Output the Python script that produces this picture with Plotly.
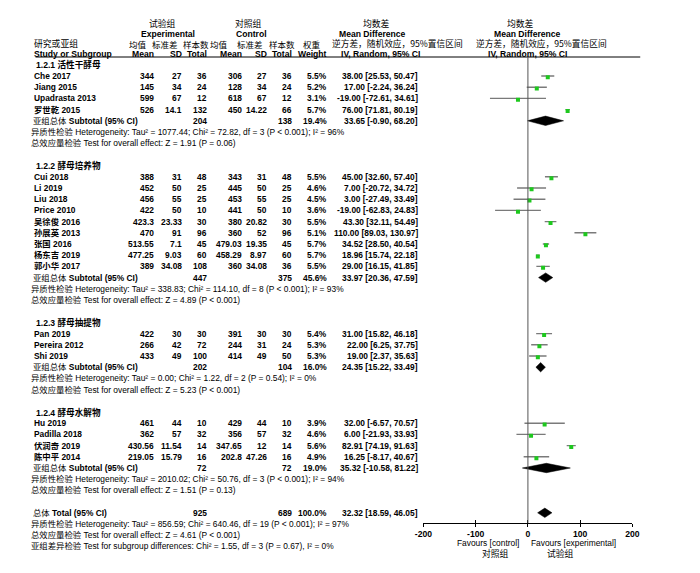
import plotly.graph_objects as go

# ---------------- data ----------------
group_titles = ["1.2.1 活性干酵母", "1.2.2 酵母培养物", "1.2.3 酵母抽提物", "1.2.4 酵母水解物"]
study_group = [0, 0, 0, 0, 1, 1, 1, 1, 1, 1, 1, 1, 1, 2, 2, 2, 3, 3, 3, 3]
study_names = ["Che 2017", "Jiang 2015", "Upadrasta 2013", "罗世乾 2015",
               "Cui 2018", "Li 2019", "Liu 2018", "Price 2010", "吴徐俊 2016", "孙展英 2013",
               "张国 2016", "杨东吉 2019", "郭小华 2017",
               "Pan 2019", "Pereira 2012", "Shi 2019",
               "Hu 2019", "Padilla 2018", "伏润奇 2019", "陈中平 2014"]
exp_mean = ["344", "145", "599", "526", "388", "452", "456", "422", "423.3", "470", "513.55",
            "477.25", "389", "422", "266", "433", "461", "362", "430.56", "219.05"]
exp_sd = ["27", "34", "67", "14.1", "31", "50", "55", "50", "23.33", "91", "7.1", "9.03",
          "34.08", "30", "42", "49", "44", "57", "11.54", "15.79"]
exp_n = [36, 24, 12, 132, 48, 25, 25, 10, 30, 96, 45, 60, 108, 30, 72, 100, 10, 32, 14, 16]
ctl_mean = ["306", "128", "618", "450", "343", "445", "453", "441", "380", "360", "479.03",
            "458.29", "360", "391", "244", "414", "429", "356", "347.65", "202.8"]
ctl_sd = ["27", "34", "67", "14.22", "31", "50", "55", "50", "20.82", "52", "19.35", "8.97",
          "34.08", "30", "31", "49", "44", "57", "12", "47.26"]
ctl_n = [36, 24, 12, 66, 48, 25, 25, 10, 30, 96, 45, 60, 36, 30, 24, 50, 10, 32, 14, 16]
weight = [5.5, 5.2, 3.1, 5.7, 5.5, 4.6, 4.5, 3.6, 5.5, 5.1, 5.7, 5.7, 5.5, 5.4, 5.3, 5.3,
          3.9, 4.6, 5.6, 4.9]
md = [38.00, 17.00, -19.00, 76.00, 45.00, 7.00, 3.00, -19.00, 43.30, 110.00, 34.52, 18.96,
      29.00, 31.00, 22.00, 19.00, 32.00, 6.00, 82.91, 16.25]
ci_lo = [25.53, -2.24, -72.61, 71.81, 32.60, -20.72, -27.49, -62.83, 32.11, 89.03, 28.50,
         15.74, 16.15, 15.82, 6.25, 2.37, -6.57, -21.93, 74.19, -8.17]
ci_hi = [50.47, 36.24, 34.61, 80.19, 57.40, 34.72, 33.49, 24.83, 54.49, 130.97, 40.54,
         22.18, 41.85, 46.18, 37.75, 35.63, 70.57, 33.93, 91.63, 40.67]

sub_exp_n = [204, 447, 202, 72]
sub_ctl_n = [138, 375, 104, 72]
sub_weight = [19.4, 45.6, 16.0, 19.0]
sub_md = [33.65, 33.97, 24.35, 35.32]
sub_lo = [-0.90, 20.36, 15.22, -10.58]
sub_hi = [68.20, 47.59, 33.49, 81.22]
sub_het = ["Tau² = 1077.44; Chi² = 72.82, df = 3 (P < 0.001); I² = 96%",
           "Tau² = 338.83; Chi² = 114.10, df = 8 (P < 0.001); I² = 93%",
           "Tau² = 0.00; Chi² = 1.22, df = 2 (P = 0.54); I² = 0%",
           "Tau² = 2010.02; Chi² = 50.76, df = 3 (P < 0.001); I² = 94%"]
sub_z = ["Z = 1.91 (P = 0.06)", "Z = 4.89 (P < 0.001)", "Z = 5.23 (P < 0.001)",
         "Z = 1.51 (P = 0.13)"]

total_exp_n = 925
total_ctl_n = 689
total_weight = 100.0
total_md = 32.32
total_lo = 18.59
total_hi = 46.05
total_het = "Tau² = 856.59; Chi² = 640.46, df = 19 (P < 0.001); I² = 97%"
total_z = "Z = 4.61 (P < 0.001)"
subgroup_diff = "Chi² = 1.55, df = 3 (P = 0.67), I² = 0%"

x_ticks = [-200, -100, 0, 100, 200]

# ---------------- layout helpers ----------------
# page body has an 8px margin: the figure is drawn at (8, 8) in the window
OX, OY = 8, 8
W, H = 692, 565
ROW0, ROWH = 76.0, 11.2          # window-pixel y of first study row, row height
LEFT_FIX = -8                     # correction for left-anchored text
FONT = "Liberation Sans, Arial, Noto Sans CJK SC"
CJK = "Noto Sans CJK SC, Liberation Sans"


def prow(py):
    return (py - ROW0) / ROWH


def px2paper(px):
    return (px - OX) / W


annotations = []


def ann(text, px, row, anchor="left", size=8.4, bold=False, family=FONT, color="black"):
    if bold:
        text = "<b>" + text + "</b>"
    if anchor == "left":
        px = px + LEFT_FIX
    annotations.append(dict(text=text, x=px2paper(px), y=row, xref="paper", yref="y",
                            xanchor=anchor, yanchor="middle", align=anchor,
                            showarrow=False,
                            font=dict(size=size, family=family, color=color),
                            borderpad=0, borderwidth=0))


# column edges (window px)
C_NAME, C_EM, C_ESD, C_EN, C_CM, C_CSD, C_CN, C_W, C_MD = 33, 148, 177, 203, 238, 264, 290, 325, 418

# ---------------- rows ----------------
study_rows = []
sub_rows = []
title_rows = []
r = -1
for g in range(len(group_titles)):
    title_rows.append(r)
    r += 1
    for i, sg in enumerate(study_group):
        if sg == g:
            study_rows.append(r)
            r += 1
    sub_rows.append(r)
    r += 4  # subtotal, heterogeneity, test, blank
total_row = r

fig = go.Figure()

# CI lines
lx, ly = [], []
for lo, hi, rr in zip(ci_lo, ci_hi, study_rows):
    lx += [lo, hi, None]
    ly += [rr, rr, None]
fig.add_trace(go.Scatter(x=lx, y=ly, mode="lines", line=dict(color="#7a7a7a", width=1.4),
                         hoverinfo="skip"))
# study markers
fig.add_trace(go.Scatter(x=md, y=[rr + 0.12 for rr in study_rows], mode="markers",
                         marker=dict(symbol="square", size=4, color="#1ec81e",
                                     line=dict(width=0)), hoverinfo="skip"))

# diamonds
DH = 0.42
for m, lo, hi, rr in list(zip(sub_md, sub_lo, sub_hi, sub_rows)) + [(total_md, total_lo, total_hi, total_row)]:
    fig.add_trace(go.Scatter(x=[lo, m, hi, m, lo], y=[rr, rr - DH, rr, rr + DH, rr],
                             mode="lines", fill="toself", fillcolor="black",
                             line=dict(color="black", width=0.5), hoverinfo="skip"))

# empty trace so the overlay axis (inner tick marks) is drawn
fig.add_trace(go.Scatter(x=[], y=[], xaxis="x2", yaxis="y", hoverinfo="skip"))

# ---------------- text: headers ----------------
h1, h2, h3, h4 = prow(23.5), prow(34), prow(43.8), prow(54)
ann("试验组", 157, h1, "center", 8.8, family=CJK)
ann("Experimental", 163, h2, "center", 8.6, True)
ann("对照组", 245, h1, "center", 8.8, family=CJK)
ann("Control", 248, h2, "center", 8.6, True)
ann("均数差", 376, h1, "center", 8.8, family=CJK)
ann("Mean Difference", 372, h2, "center", 8.6, True)
ann("逆方差，随机效应，95%置信区间", 397, h3, "center", 8.7, family=CJK)
ann("IV, Random, 95% CI", 380, h4, "center", 8.6, True)
ann("均数差", 523, h1, "center", 8.8, family=CJK)
ann("Mean Difference", 531, h2, "center", 8.6, True)
ann("逆方差，随机效应，95%置信区间", 545, h3, "center", 8.7, family=CJK)
ann("IV, Random, 95% CI", 531, h4, "center", 8.6, True)

ann("研究或亚组", C_NAME, h3, "left", 8.8, family=CJK)
for txt, cx in [("均值", 131.5), ("标准差", 159), ("样本数", 191), ("均值", 215),
                ("标准差", 247), ("样本数", 279), ("权重", 310)]:
    ann(txt, cx, h3, "center", 8.5, family=CJK)
ann("Study or Subgroup", C_NAME, h4, "left", 8.6, True)
for txt, cx in [("Mean", C_EM), ("SD", C_ESD), ("Total", C_EN), ("Mean", C_CM),
                ("SD", C_CSD), ("Total", C_CN), ("Weight", C_W)]:
    ann(txt, cx, h4, "right", 8.6, True)

# ---------------- text: body ----------------
for g, tr in enumerate(title_rows):
    ann(group_titles[g], C_NAME + 2, tr, "left", 8.6, True)

for i, rr in enumerate(study_rows):
    ann(study_names[i], C_NAME, rr, "left", 8.4, True)
    ann(exp_mean[i], C_EM, rr, "right", 8.4, True)
    ann(exp_sd[i], C_ESD, rr, "right", 8.4, True)
    ann(str(exp_n[i]), C_EN, rr, "right", 8.4, True)
    ann(ctl_mean[i], C_CM, rr, "right", 8.4, True)
    ann(ctl_sd[i], C_CSD, rr, "right", 8.4, True)
    ann(str(ctl_n[i]), C_CN, rr, "right", 8.4, True)
    ann(f"{weight[i]:.1f}%", C_W, rr, "right", 8.4, True)
    ann(f"{md[i]:.2f} [{ci_lo[i]:.2f}, {ci_hi[i]:.2f}]", C_MD, rr, "right", 8.4, True)

for g, rr in enumerate(sub_rows):
    ann("亚组总体 <b>Subtotal (95% CI)</b>", C_NAME - 1, rr, "left", 8.4)
    ann(str(sub_exp_n[g]), C_EN, rr, "right", 8.4, True)
    ann(str(sub_ctl_n[g]), C_CN, rr, "right", 8.4, True)
    ann(f"{sub_weight[g]:.1f}%", C_W, rr, "right", 8.4, True)
    ann(f"{sub_md[g]:.2f} [{sub_lo[g]:.2f}, {sub_hi[g]:.2f}]", C_MD, rr, "right", 8.4, True)
    ann("异质性检验 Heterogeneity: " + sub_het[g], 30, rr + 1, "left", 8.4)
    ann("总效应量检验 Test for overall effect: " + sub_z[g], 30, rr + 2, "left", 8.4)

ann("总体 <b>Total (95% CI)</b>", C_NAME - 1, total_row, "left", 8.4)
ann(str(total_exp_n), C_EN, total_row, "right", 8.4, True)
ann(str(total_ctl_n), C_CN, total_row, "right", 8.4, True)
ann(f"{total_weight:.1f}%", C_W, total_row, "right", 8.4, True)
ann(f"{total_md:.2f} [{total_lo:.2f}, {total_hi:.2f}]", C_MD, total_row, "right", 8.4, True)
ann("异质性检验 Heterogeneity: " + total_het, 30, total_row + 1, "left", 8.4)
ann("总效应量检验 Test for overall effect: " + total_z, 30, total_row + 2, "left", 8.4)
ann("亚组差异检验 Test for subgroup differences: " + subgroup_diff, 30, total_row + 3, "left", 8.4)

# favours labels
ann("Favours [control]", 490, prow(542.5), "center", 8.4)
ann("对照组", 498, prow(553.5), "center", 8.8, family=CJK)
ann("Favours [experimental]", 578, prow(542.5), "center", 8.4)
ann("试验组", 564, prow(553.5), "center", 8.8, family=CJK)

# ---------------- shapes ----------------
axis_py = 523
shapes = [
    dict(type="line", xref="paper", yref="y", x0=px2paper(27), x1=px2paper(646),
         y0=prow(57), y1=prow(57), line=dict(color="black", width=1)),
    dict(type="line", xref="x", yref="y", x0=0, x1=0, y0=prow(57), y1=prow(axis_py),
         line=dict(color="#555555", width=1)),
]

axis_pos = 1 - (axis_py - OY) / H
fig.update_layout(
    width=W, height=H, margin=dict(l=0, r=0, t=0, b=0),
    paper_bgcolor="white", plot_bgcolor="rgba(0,0,0,0)", showlegend=False,
    annotations=annotations, shapes=shapes,
    xaxis=dict(domain=[px2paper(424), px2paper(638)], range=[-200, 200], anchor="free",
               position=axis_pos, showgrid=False, zeroline=False,
               showline=True, linecolor="black", linewidth=1,
               ticks="outside", ticklen=3, tickcolor="black", tickwidth=1,
               tickvals=x_ticks, ticktext=[f"<b>{t}</b>" for t in x_ticks],
               tickfont=dict(size=8.6, family=FONT, color="black")),
    xaxis2=dict(domain=[px2paper(424), px2paper(638)], range=[-200, 200], anchor="free",
                overlaying="x", position=axis_pos, showgrid=False, zeroline=False,
                showline=False, ticks="inside", ticklen=3, tickcolor="black", tickwidth=1,
                tickvals=x_ticks, showticklabels=False),
    yaxis=dict(domain=[0, 1], range=[prow(OY + H), prow(OY)], visible=False,
               showgrid=False, zeroline=False),
)

fig.write_html("out.html")
